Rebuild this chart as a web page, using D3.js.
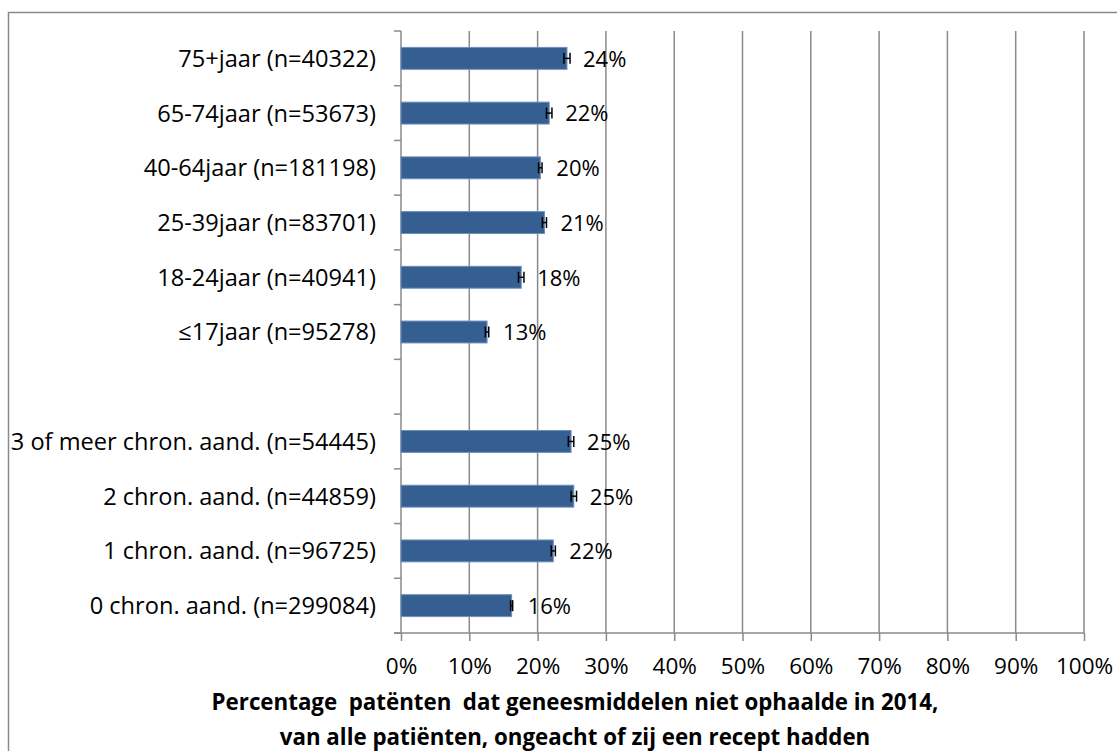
<!DOCTYPE html>
<html><head><meta charset="utf-8">
<script src="https://cdn.jsdelivr.net/npm/d3@7"></script>
<style>body{margin:0;background:#fff}svg{display:block}</style>
</head><body>
<script>
const categories = ["75+jaar (n=40322)","65-74jaar (n=53673)","40-64jaar (n=181198)","25-39jaar (n=83701)","18-24jaar (n=40941)","\u226417jaar (n=95278)","","3 of meer chron. aand. (n=54445)","2 chron. aand. (n=44859)","1 chron. aand. (n=96725)","0 chron. aand. (n=299084)"];
const values = [24.3,21.7,20.4,21.0,17.6,12.6,null,24.9,25.3,22.3,16.2];
const errors = [0.45,0.4,0.25,0.3,0.4,0.25,null,0.4,0.4,0.3,0.15];
const xTicks = [0,10,20,30,40,50,60,70,80,90,100];
const titleLines = ["Percentage  pat\u00ebnten  dat geneesmiddelen niet ophaalde in 2014,","van alle pati\u00ebnten, ongeacht of zij een recept hadden"];

(function(){
const W=1117,H=751;
const svg=d3.select("body").append("svg").attr("width",W).attr("height",H);
const font="'Open Sans', sans-serif";
const pL=401,pR=1084,pT=31,pB=633;
const x=d3.scaleLinear().domain([0,100]).range([pL,pR]);
const y=d3.scaleBand().domain(d3.range(categories.length)).range([pT,pB]).paddingInner(0.6).paddingOuter(0.3);
const yb=d3.scaleBand().domain(d3.range(categories.length)).range([pT,pB]);
const grey="#8a8a8a";

svg.append("rect").attr("x",8.5).attr("y",12.5).attr("width",1200).attr("height",900).attr("fill","none").attr("stroke",grey).attr("stroke-width",1.5);

svg.append("g").selectAll("line").data(xTicks.slice(1)).join("line")
 .attr("x1",d=>x(d)).attr("x2",d=>x(d)).attr("y1",pT).attr("y2",pB)
 .attr("stroke",grey).attr("stroke-width",1.5);

const xAxis=d3.axisBottom(x).tickValues(xTicks).tickFormat(d=>d+"%").tickSize(8).tickPadding(0);
const gx=svg.append("g").attr("transform",`translate(0,${pB})`).call(xAxis);
gx.select(".domain").attr("stroke",grey).attr("stroke-width",1.5).attr("d",`M${pL-7},0H${pR}`);
gx.selectAll(".tick line").attr("stroke",grey).attr("stroke-width",1.5);
gx.selectAll(".tick text").attr("font-family",font).attr("font-size",22.5).attr("fill","#000").attr("y",41).attr("dy",null);

svg.append("line").attr("x1",pL).attr("x2",pL).attr("y1",pT).attr("y2",pB).attr("stroke",grey).attr("stroke-width",1.5);
const bounds=d3.range(categories.length+1).map(i=>i<categories.length?yb(i):pB);
svg.append("g").selectAll("line").data(bounds).join("line")
 .attr("x1",pL-7).attr("x2",pL).attr("y1",d=>d).attr("y2",d=>d).attr("stroke",grey).attr("stroke-width",1.5);

svg.append("g").selectAll("text").data(categories).join("text")
 .attr("x",376).attr("y",(d,i)=>yb(i)+yb.bandwidth()/2).attr("dy","0.36em")
 .attr("text-anchor","end").attr("font-family",font).attr("font-size",23.6).text(d=>d);

const idx=d3.range(categories.length).filter(i=>values[i]!=null);
svg.append("g").selectAll("rect").data(idx).join("rect")
 .attr("x",x(0)).attr("y",i=>y(i)).attr("width",i=>x(values[i])-x(0)).attr("height",y.bandwidth())
 .attr("fill","#355e91").attr("stroke","#6f8fbb").attr("stroke-width",1);

const eg=svg.append("g").attr("stroke","#000").attr("stroke-width",1.5);
idx.forEach(i=>{
 const cy=y(i)+y.bandwidth()/2, x0=x(values[i]-errors[i]), x1=x(values[i]+errors[i]);
 eg.append("line").attr("x1",x0).attr("x2",x1).attr("y1",cy).attr("y2",cy);
 eg.append("line").attr("x1",x0).attr("x2",x0).attr("y1",cy-5.5).attr("y2",cy+5.5);
 eg.append("line").attr("x1",x1).attr("x2",x1).attr("y1",cy-5.5).attr("y2",cy+5.5);
});

svg.append("g").selectAll("text").data(idx).join("text")
 .attr("x",i=>x(values[i])+16).attr("y",i=>y(i)+y.bandwidth()/2).attr("dy","0.38em")
 .attr("font-family",font).attr("font-size",22).text(i=>d3.format(".0f")(values[i])+"%");

svg.append("g").selectAll("text").data(titleLines).join("text")
 .attr("x",575).attr("y",(d,i)=>710+i*34.5).attr("text-anchor","middle")
 .attr("font-family",font).attr("font-weight","bold").attr("font-size",22.3)
 .style("white-space","pre").text(d=>d);
})();
</script>
</body></html>
